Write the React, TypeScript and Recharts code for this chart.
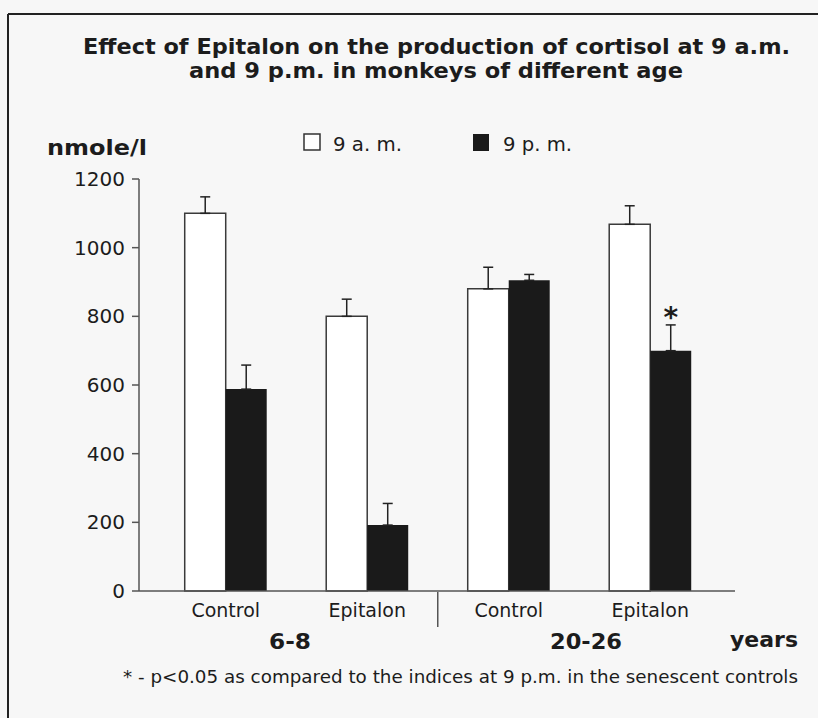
import { BarChart, Bar, XAxis, YAxis, ErrorBar, LabelList } from 'recharts';

const categories = ['Control', 'Epitalon', 'Control', 'Epitalon'];
const ageGroups = ['6-8', '20-26'];
const amValues = [1100, 800, 880, 1068];
const amErrors = [48, 50, 63, 54];
const pmValues = [588, 192, 905, 700];
const pmErrors = [70, 63, 17, 75];
const marks = ['', '', '', '*'];
const yTicks = [0, 200, 400, 600, 800, 1000, 1200];

const data = categories.map((name, i) => ({
  name,
  am: amValues[i],
  amErr: [0, amErrors[i]],
  pm: pmValues[i],
  pmErr: [0, pmErrors[i]],
  mark: marks[i],
}));

const FONT = '"DejaVu Sans", Verdana, sans-serif';
const INK = '#1c1c1c';

const CategoryTick = (props: any) => {
  const { x, y, payload, index } = props;
  return (
    <g>
      <text x={x} y={y + 26} textAnchor="middle" fontFamily={FONT} fontSize={19} fill={INK}>
        {payload.value}
      </text>
      {index === 2 && (
        <line x1={x - 71} x2={x - 71} y1={y + 1} y2={y + 36} stroke="#555" strokeWidth={1.5} />
      )}
    </g>
  );
};

const Asterisk = (props: any) => {
  const { x, y, width, value } = props;
  if (!value) return null;
  return (
    <text x={x + width / 2} y={y - 24} textAnchor="middle" fontFamily={FONT} fontWeight="bold" fontSize={28} fill={INK}>
      {value}
    </text>
  );
};

export default function App() {
  return (
    <div style={{ position: 'absolute', left: 0, top: 0, width: 818, height: 718, background: '#f7f7f7', overflow: 'hidden' }}>
      <BarChart
        width={818}
        height={718}
        data={data}
        margin={{ top: 179, right: 83, bottom: 97, left: 69 }}
        barCategoryGap="21%"
        barGap={0}
      >
        <YAxis
          width={70}
          domain={[0, 1200]}
          ticks={yTicks}
          interval={0}
          tickSize={7}
          tickMargin={7}
          axisLine={{ stroke: '#555', strokeWidth: 1.5 }}
          tickLine={{ stroke: '#555', strokeWidth: 1.5 }}
          tick={{ fontFamily: FONT, fontSize: 20, fill: INK }}
        />
        <XAxis
          dataKey="name"
          height={30}
          padding={{ left: 16, right: 14 }}
          tickLine={false}
          tickSize={0}
          tickMargin={0}
          interval={0}
          axisLine={{ stroke: '#555', strokeWidth: 1.5 }}
          tick={<CategoryTick />}
        />
        <Bar dataKey="am" fill="#ffffff" stroke="#3a3a3a" strokeWidth={1.5} isAnimationActive={false}>
          <ErrorBar dataKey="amErr" width={5} stroke="#222" strokeWidth={1.5} />
        </Bar>
        <Bar dataKey="pm" fill="#1a1a1a" isAnimationActive={false}>
          <ErrorBar dataKey="pmErr" width={5} stroke="#222" strokeWidth={1.5} />
          <LabelList dataKey="mark" content={<Asterisk />} />
        </Bar>
      </BarChart>
      <svg width={818} height={718} style={{ position: 'absolute', left: 0, top: 0, pointerEvents: 'none' }}>
        <line x1={8} y1={14} x2={818} y2={14} stroke="#222" strokeWidth={2} />
        <line x1={8} y1={14} x2={8} y2={718} stroke="#222" strokeWidth={2} />
        <text x={436.5} y={54} textAnchor="middle" fontFamily={FONT} fontWeight="bold" fontSize={22} fill={INK} textLength={707} lengthAdjust="spacingAndGlyphs">
          Effect of Epitalon on the production of cortisol at 9 a.m.
        </text>
        <text x={436} y={78} textAnchor="middle" fontFamily={FONT} fontWeight="bold" fontSize={22} fill={INK} textLength={494} lengthAdjust="spacingAndGlyphs">
          and 9 p.m. in monkeys of different age
        </text>
        <text x={47} y={155} fontFamily={FONT} fontWeight="bold" fontSize={21} fill={INK} textLength={100} lengthAdjust="spacingAndGlyphs">
          nmole/l
        </text>
        <rect x={304} y={134} width={16} height={16} fill="#fff" stroke="#333" strokeWidth={1.5} />
        <text x={333} y={151} fontFamily={FONT} fontSize={19} fill={INK} textLength={69} lengthAdjust="spacingAndGlyphs">
          9 a. m.
        </text>
        <rect x={473} y={134} width={16} height={17} fill="#1a1a1a" />
        <text x={503} y={151} fontFamily={FONT} fontSize={19} fill={INK} textLength={69} lengthAdjust="spacingAndGlyphs">
          9 p. m.
        </text>
        <text x={290} y={649} textAnchor="middle" fontFamily={FONT} fontWeight="bold" fontSize={21} fill={INK} textLength={42} lengthAdjust="spacingAndGlyphs">
          {ageGroups[0]}
        </text>
        <text x={586} y={649} textAnchor="middle" fontFamily={FONT} fontWeight="bold" fontSize={21} fill={INK} textLength={72} lengthAdjust="spacingAndGlyphs">
          {ageGroups[1]}
        </text>
        <text x={730} y={647} fontFamily={FONT} fontWeight="bold" fontSize={21} fill={INK} textLength={68} lengthAdjust="spacingAndGlyphs">
          years
        </text>
        <text x={123} y={683} fontFamily={FONT} fontSize={17} fill={INK} textLength={675} lengthAdjust="spacingAndGlyphs">
          * - p&lt;0.05 as compared to the indices at 9 p.m. in the senescent controls
        </text>
      </svg>
    </div>
  );
}
